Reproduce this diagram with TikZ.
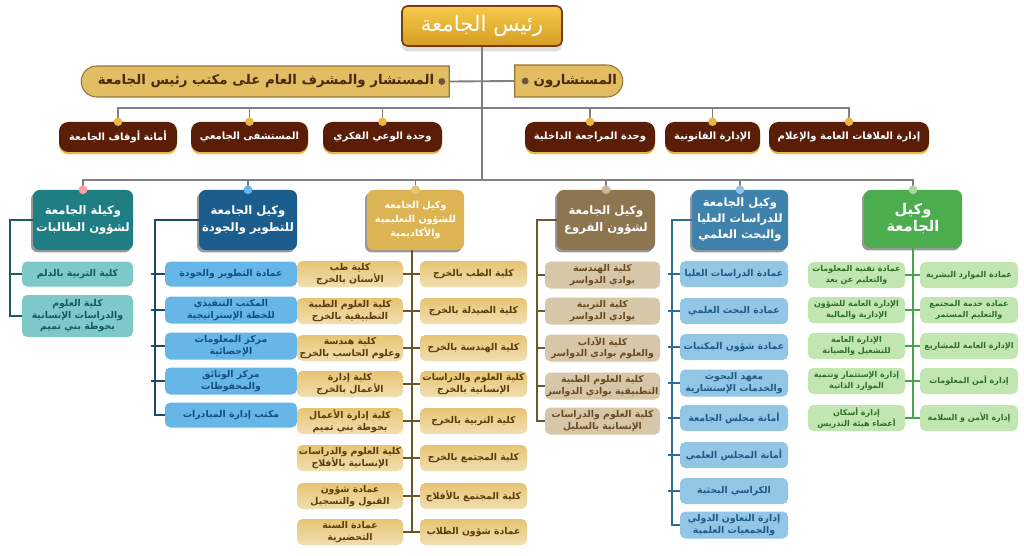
\documentclass[tikz,border=0pt]{standalone}
\usepackage{fontspec}
\setmainfont{DejaVu Sans}
\newfontfamily\arabicfont[Script=Arabic]{DejaVu Sans}
\TeXXeTstate=1
\usetikzlibrary{shapes.misc,shadows}
\newcommand\ar[1]{\beginR #1\endR}
\newcommand\bx[7]{%
  \pgfmathsetmacro\bxw{(#4-#2)*0.75}%
  \pgfmathsetmacro\bxh{(#5-#3)*0.75}%
  \pgfmathsetmacro\bxx{(#2+#4)/2}%
  \pgfmathsetmacro\bxy{(#3+#5)/2}%
  \node[#6,minimum width=\bxw pt,minimum height=\bxh pt] (#1) at (\bxx,\bxy) {#7};}
\newcommand\cbx[7]{%
  \pgfmathsetmacro\bxw{(#3-#2)*0.75}%
  \pgfmathsetmacro\bxh{#5*0.75}%
  \pgfmathsetmacro\bxx{(#2+#3)/2}%
  \node[#6,minimum width=\bxw pt,minimum height=\bxh pt] (#1) at (\bxx,#4) {#7};}
\definecolor{goldT}{HTML}{F5CB4C}
\definecolor{goldB}{HTML}{D69D22}
\definecolor{presBorder}{HTML}{7A3A12}
\definecolor{pill}{HTML}{E2BD62}
\definecolor{pillD}{HTML}{9A7434}
\definecolor{pillT}{HTML}{4A2A0E}
\definecolor{maroon}{HTML}{5A1E08}
\definecolor{goldDot}{HTML}{E9B844}
\definecolor{conn}{HTML}{808080}
\definecolor{tealH}{HTML}{1F7D84}
\definecolor{tealI}{HTML}{7DC9C9}
\definecolor{tealT}{HTML}{17585E}
\definecolor{tealL}{HTML}{1D5C60}
\definecolor{blueH}{HTML}{1B5E8E}
\definecolor{blueI}{HTML}{66B6E8}
\definecolor{blueT}{HTML}{15507D}
\definecolor{blueL}{HTML}{1B4B6C}
\definecolor{yelH}{HTML}{DDB453}
\definecolor{yelI}{HTML}{E6C472}
\definecolor{yelT}{HTML}{5C3C0E}
\definecolor{yelL}{HTML}{6E5526}
\definecolor{brnH}{HTML}{8D7550}
\definecolor{brnI}{HTML}{D6C7A8}
\definecolor{brnT}{HTML}{6A4A22}
\definecolor{brnL}{HTML}{6E5832}
\definecolor{lbH}{HTML}{3F83AD}
\definecolor{lbI}{HTML}{93C5E4}
\definecolor{lbT}{HTML}{1E5B86}
\definecolor{lbL}{HTML}{2D6E98}
\definecolor{grnH}{HTML}{4CAD4F}
\definecolor{grnI}{HTML}{C2E6B1}
\definecolor{grnT}{HTML}{2F6D2A}
\definecolor{grnL}{HTML}{49A449}
\begin{document}
\begin{tikzpicture}[x=0.75pt,y=-0.75pt,
  base/.style={inner sep=0pt,align=center},
  presbox/.style={base,rounded corners=4pt,top color=goldT,bottom color=goldB,draw=presBorder,line width=1.2pt,text=white,
     font=\arabicfont\fontsize{16}{18}\selectfont,drop shadow={shadow xshift=0pt,shadow yshift=-4pt,opacity=0.25}},
  pillbox/.style={base,rounded rectangle,fill=pill,draw=pillD,line width=0.8pt,text=pillT,font=\arabicfont\bfseries\fontsize{10}{12}\selectfont},
  r3box/.style={base,rounded corners=7pt,fill=maroon,text=white,font=\arabicfont\bfseries\fontsize{7.5}{9}\selectfont,
     drop shadow={shadow xshift=0pt,shadow yshift=-1.6pt,fill=goldDot,opacity=1}},
  head/.style={base,rounded corners=5pt,text=white,font=\arabicfont\bfseries\fontsize{8.7}{13}\selectfont,
     drop shadow={shadow xshift=-1.5pt,shadow yshift=-1.8pt,fill=black,opacity=0.4}},
  item/.style={base,rounded corners=4pt,font=\arabicfont\bfseries\fontsize{7}{8.6}\selectfont},
  tealitem/.style={item,fill=tealI,text=tealT},
  blueitem/.style={item,fill=blueI,text=blueT},
  yelitem/.style={item,top color=yelI,bottom color=yelI!55!white,text=yelT},
  brnitem/.style={item,fill=brnI,text=brnT},
  lbitem/.style={item,fill=lbI,text=lbT},
  grnitem/.style={item,fill=grnI,text=grnT,font=\arabicfont\bfseries\fontsize{6}{7.6}\selectfont},
  cn/.style={draw=conn,line width=1.4pt},
  spine/.style={line width=1.4pt}
]
\useasboundingbox (0,0) rectangle (1024,556);
\fill[white] (0,0) rectangle (1024,556);

% top
\bx{pres}{402}{6}{562}{46}{presbox}{\ar{رئيس الجامعة}}
\bx{adv}{82}{66}{450}{97}{pillbox,rounded rectangle east arc=none}{\ar{المستشار والمشرف العام على مكتب رئيس الجامعة}}
\bx{advs}{514}{65}{622}{97}{pillbox,rounded rectangle west arc=none}{\kern11pt\ar{المستشارون}}
\fill[pillT!80] (adv.east) ++(-8,0) circle[radius=2.6pt];
\fill[pillT!80] (advs.west) ++(11,0) circle[radius=2.6pt];

% row 3
\bx{r3a}{59}{122}{177}{152}{r3box}{\ar{أمانة أوقاف الجامعة}}
\bx{r3b}{191}{122}{308}{152}{r3box}{\ar{المستشفى الجامعي}}
\bx{r3c}{323}{122}{442}{152}{r3box}{\ar{وحدة الوعي الفكري}}
\bx{r3d}{525}{122}{655}{152}{r3box}{\ar{وحدة المراجعة الداخلية}}
\bx{r3e}{665}{122}{760}{152}{r3box}{\ar{الإدارة القانونية}}
\bx{r3f}{769}{122}{929}{152}{r3box}{\ar{إدارة العلاقات العامة والإعلام}}
\coordinate (bus3) at (482,108);
\coordinate (bus) at (482,180);

% heads
\bx{h1}{33}{190}{133}{250}{head,fill=tealH}{\ar{وكيلة الجامعة}\\\ar{لشؤون الطالبات}}
\bx{h2}{199}{190}{297}{250}{head,fill=blueH}{\ar{وكيل الجامعة}\\\ar{للتطوير والجودة}}
\bx{h3}{367}{190}{464}{250}{head,fill=yelH,font=\arabicfont\bfseries\fontsize{7.2}{10.8}\selectfont}{\ar{وكيل الجامعة}\\\ar{للشؤون التعليمية}\\\ar{والأكاديمية}}
\bx{h4}{557}{190}{655}{250}{head,fill=brnH}{\ar{وكيل الجامعة}\\\ar{لشؤون الفروع}}
\bx{h5}{692}{190}{788}{250}{head,fill=lbH,font=\arabicfont\bfseries\fontsize{8.6}{12}\selectfont}{\ar{وكيل الجامعة}\\\ar{للدراسات العليا}\\\ar{والبحث العلمي}}
\bx{h6}{864}{190}{962}{248}{head,fill=grnH,font=\arabicfont\bfseries\fontsize{11}{12.5}\selectfont}{\ar{وكيل}\\\ar{الجامعة}}

% teal column
\cbx{t1}{22}{133}{274}{25}{tealitem}{\ar{كلية التربية بالدلم}}
\cbx{t2}{22}{133}{316}{42}{tealitem}{\ar{كلية العلوم}\\\ar{والدراسات الإنسانية}\\\ar{بحوطة بني تميم}}
\coordinate (s1) at (10,220);

% blue column
\cbx{b1}{165}{297}{274}{25}{blueitem}{\ar{عمادة التطوير والجودة}}
\cbx{b2}{165}{297}{310}{27}{blueitem}{\ar{المكتب التنفيذي}\\\ar{للخطة الإستراتيجية}}
\cbx{b3}{165}{297}{346}{27}{blueitem}{\ar{مركز المعلومات}\\\ar{الإحصائية}}
\cbx{b4}{165}{297}{381}{27}{blueitem}{\ar{مركز الوثائق}\\\ar{والمحفوظات}}
\cbx{b5}{165}{297}{415}{25}{blueitem}{\ar{مكتب إدارة المبادرات}}
\coordinate (s2) at (155,220);

% yellow column
\cbx{yr1}{420}{527}{274}{26}{yelitem}{\ar{كلية الطب بالخرج}}
\cbx{yr2}{420}{527}{311}{26}{yelitem}{\ar{كلية الصيدلة بالخرج}}
\cbx{yr3}{420}{527}{348}{26}{yelitem}{\ar{كلية الهندسة بالخرج}}
\cbx{yr4}{420}{527}{384}{26}{yelitem}{\ar{كلية العلوم والدراسات}\\\ar{الإنسانية بالخرج}}
\cbx{yr5}{420}{527}{421}{26}{yelitem}{\ar{كلية التربية بالخرج}}
\cbx{yr6}{420}{527}{458}{26}{yelitem}{\ar{كلية المجتمع بالخرج}}
\cbx{yr7}{420}{527}{496}{26}{yelitem}{\ar{كلية المجتمع بالأفلاج}}
\cbx{yr8}{420}{527}{532}{26}{yelitem}{\ar{عمادة شؤون الطلاب}}
\cbx{yl1}{297}{403}{274}{26}{yelitem}{\ar{كلية طب}\\\ar{الأسنان بالخرج}}
\cbx{yl2}{297}{403}{311}{26}{yelitem}{\ar{كلية العلوم الطبية}\\\ar{التطبيقية بالخرج}}
\cbx{yl3}{297}{403}{348}{26}{yelitem}{\ar{كلية هندسة}\\\ar{وعلوم الحاسب بالخرج}}
\cbx{yl4}{297}{403}{384}{26}{yelitem}{\ar{كلية إدارة}\\\ar{الأعمال بالخرج}}
\cbx{yl5}{297}{403}{421}{26}{yelitem}{\ar{كلية إدارة الأعمال}\\\ar{بحوطة بني تميم}}
\cbx{yl6}{297}{403}{458}{26}{yelitem}{\ar{كلية العلوم والدراسات}\\\ar{الإنسانية بالأفلاج}}
\cbx{yl7}{297}{403}{496}{26}{yelitem}{\ar{عمادة شؤون}\\\ar{القبول والتسجيل}}
\cbx{yl8}{297}{403}{532}{26}{yelitem}{\ar{عمادة السنة}\\\ar{التحضيرية}}
\coordinate (s3) at (412,250);

% brown column
\cbx{br1}{545}{660}{275}{27}{brnitem}{\ar{كلية الهندسة}\\\ar{بوادي الدواسر}}
\cbx{br2}{545}{660}{311}{27}{brnitem}{\ar{كلية التربية}\\\ar{بوادي الدواسر}}
\cbx{br3}{545}{660}{348}{27}{brnitem}{\ar{كلية الآداب}\\\ar{والعلوم بوادي الدواسر}}
\cbx{br4}{545}{660}{386}{27}{brnitem}{\ar{كلية العلوم الطبية}\\\ar{التطبيقية بوادي الدواسر}}
\cbx{br5}{545}{660}{421}{27}{brnitem}{\ar{كلية العلوم والدراسات}\\\ar{الإنسانية بالسليل}}
\coordinate (s4) at (537,220);

% light blue column
\cbx{lb1}{680}{788}{274}{26}{lbitem}{\ar{عمادة الدراسات العليا}}
\cbx{lb2}{680}{788}{311}{26}{lbitem}{\ar{عمادة البحث العلمي}}
\cbx{lb3}{680}{788}{347}{26}{lbitem}{\ar{عمادة شؤون المكتبات}}
\cbx{lb4}{680}{788}{383}{27}{lbitem}{\ar{معهد البحوث}\\\ar{والخدمات الإستشارية}}
\cbx{lb5}{680}{788}{418}{26}{lbitem}{\ar{أمانة مجلس الجامعة}}
\cbx{lb6}{680}{788}{455}{26}{lbitem}{\ar{أمانة المجلس العلمي}}
\cbx{lb7}{680}{788}{491}{26}{lbitem}{\ar{الكراسي البحثية}}
\cbx{lb8}{680}{788}{525}{27}{lbitem}{\ar{إدارة التعاون الدولي}\\\ar{والجمعيات العلمية}}
\coordinate (s5) at (672,220);

% green column
\cbx{gr1}{920}{1018}{275}{26}{grnitem}{\ar{عمادة الموارد البشرية}}
\cbx{gr2}{920}{1018}{310}{26}{grnitem}{\ar{عمادة خدمة المجتمع}\\\ar{والتعليم المستمر}}
\cbx{gr3}{920}{1018}{346}{26}{grnitem}{\ar{الإدارة العامة للمشاريع}}
\cbx{gr4}{920}{1018}{381}{26}{grnitem}{\ar{إدارة أمن المعلومات}}
\cbx{gr5}{920}{1018}{418}{26}{grnitem}{\ar{إدارة الأمن و السلامة}}
\cbx{gl1}{808}{905}{275}{26}{grnitem}{\ar{عمادة تقنية المعلومات}\\\ar{والتعليم عن بعد}}
\cbx{gl2}{808}{905}{310}{26}{grnitem}{\ar{الإدارة العامة للشؤون}\\\ar{الإدارية والمالية}}
\cbx{gl3}{808}{905}{346}{26}{grnitem}{\ar{الإدارة العامة}\\\ar{للتشغيل والصيانة}}
\cbx{gl4}{808}{905}{381}{26}{grnitem}{\ar{إدارة الإستثمار وتنمية}\\\ar{الموارد الذاتية}}
\cbx{gl5}{808}{905}{418}{26}{grnitem}{\ar{إدارة أسكان}\\\ar{أعضاء هيئة التدريس}}

% ---- connectors ----
\draw[cn] (pres.south) -- (bus);
\draw[cn] (adv.east) -- (advs.west);
\draw[cn] (r3a.north) -- (r3a.north |- bus3) -- (r3f.north |- bus3) -- (r3f.north);
\foreach \n in {r3b,r3c,r3d,r3e} \draw[cn] (\n.north) -- (\n.north |- bus3);
\draw[cn] (h1.north) -- (h1.north |- bus) -- (h6.north |- bus) -- (h6.north);
\foreach \n in {h2,h3,h4,h5} \draw[cn] (\n.north) -- (\n.north |- bus);
\foreach \n in {r3a,r3b,r3c,r3d,r3e,r3f} \fill[goldDot] (\n.north) circle[radius=3.2pt];

% column spines
\draw[spine,tealL] (h1.west) -- (s1) |- (t2.west);
\draw[spine,tealL] (t1.west) -- (t1.west -| s1);
\draw[spine,blueL] (h2.west) -- (s2) |- (b5.west);
\foreach \n in {b1,b2,b3,b4} \draw[spine,blueL] (\n.west) -- ([xshift=-3pt]\n.west -| s2);
\draw[spine,yelL] (h3.south -| s3) -- (yr8.west -| s3);
\foreach \i in {1,...,8} \draw[spine,yelL] (yl\i.east) -- (yr\i.west);
\draw[spine,brnL] (h4.west) -- (s4) |- (br5.west);
\foreach \n in {br1,br2,br3,br4} \draw[spine,brnL] (\n.west) -- (\n.west -| s4);
\draw[spine,lbL] (h5.west) -- (s5) |- (lb8.west);
\foreach \i in {1,...,7} \draw[spine,lbL] (lb\i.west) -- ([xshift=-3pt]lb\i.west -| s5);
\draw[spine,grnL] (h6.south) -- (h6.south |- gr5.west);
\foreach \i in {1,...,5} \draw[spine,grnL] (gl\i.east) -- (gr\i.west);

% head dots
\fill[pink!70!red!80] (h1.north) circle[radius=3.3pt];
\fill[blueI] (h2.north) circle[radius=3.3pt];
\fill[yelI] (h3.north) circle[radius=3.3pt];
\fill[brnI!80!brnH] (h4.north) circle[radius=3.3pt];
\fill[lbI] (h5.north) circle[radius=3.3pt];
\fill[grnI!80!grnH] (h6.north) circle[radius=3.3pt];
\end{tikzpicture}
\end{document}
